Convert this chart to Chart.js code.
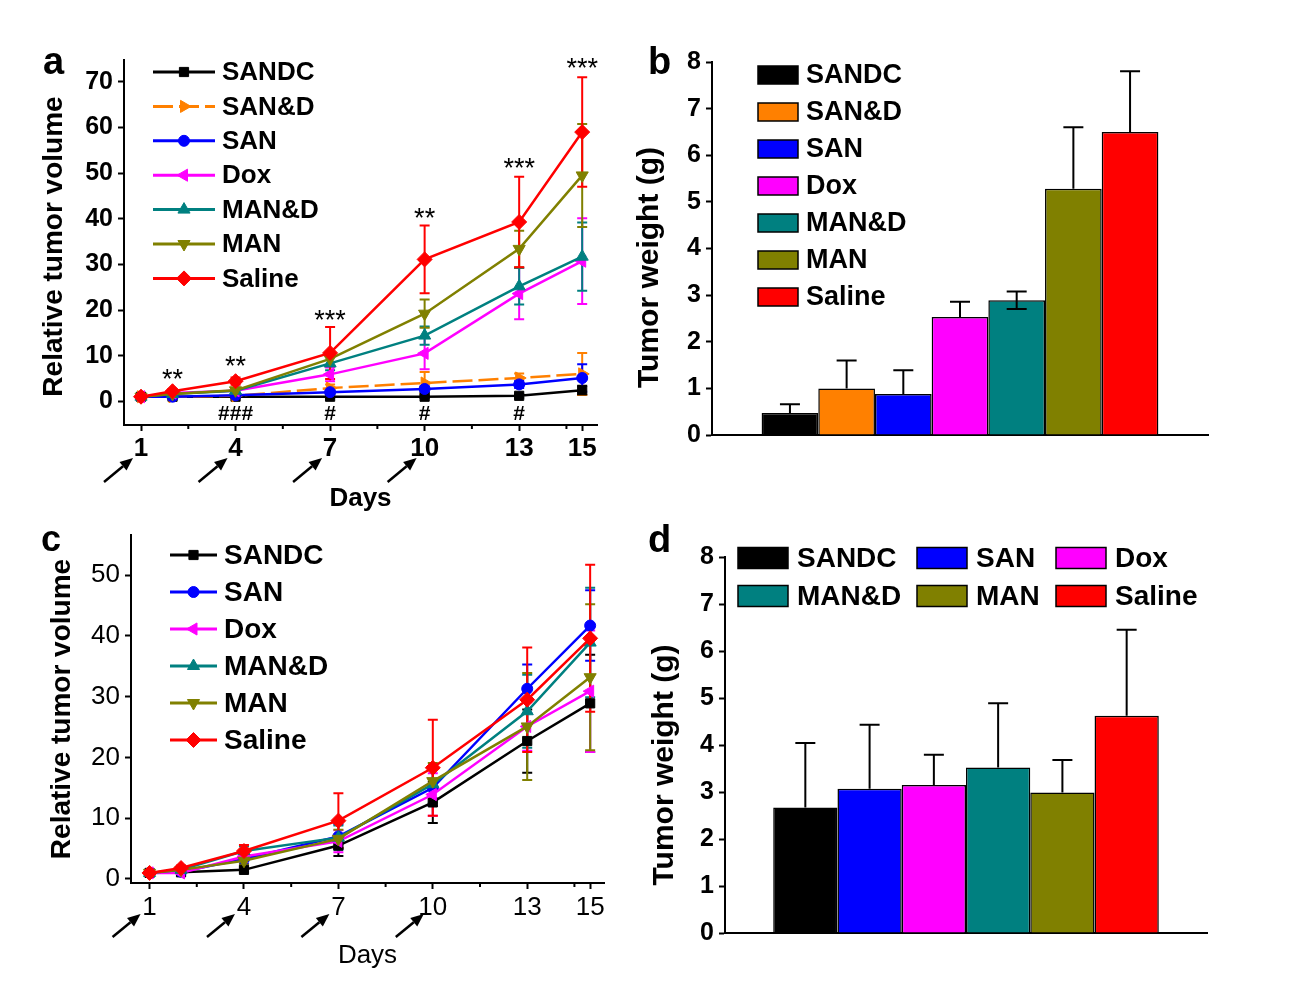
<!DOCTYPE html>
<html>
<head>
<meta charset="utf-8">
<title>Tumor growth</title>
<script src="https://cdn.jsdelivr.net/npm/chart.js@4.4.1/dist/chart.umd.min.js"></script>
<style>
  body { margin: 0; background: #fff; width: 1309px; height: 1006px; position: relative; overflow: hidden; }
  canvas { position: absolute; }
</style>
</head>
<body>
<canvas id="ca" width="615" height="515" style="left:0;top:0"></canvas>
<canvas id="cb" width="640" height="480" style="left:620px;top:0"></canvas>
<canvas id="cc" width="615" height="490" style="left:0;top:510px"></canvas>
<canvas id="cd" width="640" height="480" style="left:620px;top:500px"></canvas>
<script>
// sampling days and axis ticks
const days = [1, 2, 4, 7, 10, 13, 15];
const dayTicks = [1, 4, 7, 10, 13, 15];
const minorDays = [2.5, 5.5, 8.5, 11.5, 14.5];
const doseDays = [1, 4, 7, 10];

// panel a: relative tumor volume (mean, sd)
const aSANDC = [1.0, 1.0, 1.0, 1.0, 1.0, 1.2, 2.4];
const aSANDCsd = [0.1, 0.1, 0.2, 0.3, 0.3, 0.4, 1.0];
const aSANandD = [1.0, 1.0, 1.2, 2.9, 4.0, 5.1, 6.0];
const aSANandDsd = [0.1, 0.2, 0.3, 0.8, 2.4, 1.0, 4.6];
const aSAN = [1.0, 1.0, 1.3, 2.0, 2.7, 3.7, 5.1];
const aSANsd = [0.1, 0.1, 0.2, 0.4, 0.6, 0.8, 3.0];
const aDox = [1.0, 1.8, 2.3, 5.9, 10.5, 23.6, 30.7];
const aDoxSd = [0.1, 0.3, 0.6, 1.5, 3.5, 5.6, 9.4];
const aMANandD = [1.0, 1.6, 2.3, 8.3, 14.4, 25.2, 31.7];
const aMANandDsd = [0.1, 0.3, 0.6, 1.5, 2.0, 4.0, 7.5];
const aMAN = [1.0, 1.6, 2.4, 9.3, 19.2, 33.4, 49.5];
const aMANsd = [0.1, 0.3, 0.5, 1.5, 3.1, 4.0, 11.3];
const aSaline = [1.0, 2.2, 4.4, 10.6, 31.1, 39.3, 59.0];
const aSalineSd = [0.1, 0.5, 0.8, 5.7, 7.4, 9.9, 12.0];
const aYTicks = [0, 10, 20, 30, 40, 50, 60, 70];

// significance marks in panel a
const aStarDays = [2, 4, 7, 10, 13, 15];
const aStarLevels = [6.0, 8.8, 18.8, 41.3, 52.2, 74.1];
const aStarText = ['**', '**', '***', '**', '***', '***'];
const aHashDays = [4, 7, 10, 13];
const aHashLevels = [-2.9, -2.9, -2.9, -2.9];
const aHashText = ['###', '#', '#', '#'];

// panel b: tumor weight (g)
const bGroups = ['SANDC', 'SAN&D', 'SAN', 'Dox', 'MAN&D', 'MAN', 'Saline'];
const bWeight = [0.47, 1.0, 0.88, 2.53, 2.89, 5.28, 6.5];
const bSd = [0.19, 0.6, 0.51, 0.33, 0.19, 1.32, 1.3];
const bTicks = [0, 1, 2, 3, 4, 5, 6, 7, 8];

// panel c: relative tumor volume (mean, sd)
const cSANDC = [1.0, 1.1, 1.5, 5.5, 12.6, 22.7, 28.9];
const cSANDCsd = [0.1, 0.2, 0.4, 1.7, 3.4, 5.2, 8.0];
const cSAN = [1.0, 1.2, 3.3, 7.0, 15.0, 31.3, 41.7];
const cSANsd = [0.1, 0.2, 0.8, 2.0, 3.0, 4.0, 5.8];
const cDox = [1.0, 1.0, 3.7, 6.2, 13.9, 25.1, 30.9];
const cDoxSd = [0.1, 0.2, 0.7, 1.8, 3.5, 4.0, 10.0];
const cMANandD = [1.0, 1.5, 4.6, 6.8, 15.6, 27.6, 38.9];
const cMANandDsd = [0.1, 0.3, 0.8, 2.0, 3.0, 6.0, 9.0];
const cMAN = [1.0, 1.5, 3.0, 6.6, 16.1, 25.1, 33.2];
const cMANsd = [0.1, 0.3, 0.6, 1.5, 3.0, 8.8, 12.0];
const cSaline = [1.0, 1.8, 4.6, 9.6, 18.3, 29.5, 39.6];
const cSalineSd = [0.1, 0.4, 1.0, 4.5, 7.9, 8.6, 12.1];
const cYTicks = [0, 10, 20, 30, 40, 50];

// panel d: tumor weight (g)
const dGroups = ['SANDC', 'SAN', 'Dox', 'MAN&D', 'MAN', 'Saline'];
const dWeight = [2.67, 3.07, 3.15, 3.52, 2.99, 4.62];
const dSd = [1.37, 1.36, 0.64, 1.37, 0.69, 1.83];

const FONT = "'Liberation Sans', Arial, Helvetica, sans-serif";
const COL = {
  'SANDC': '#000000', 'SAN&D': '#ff8000', 'SAN': '#0000ff', 'Dox': '#ff00ff',
  'MAN&D': '#008080', 'MAN': '#808000', 'Saline': '#ff0000'
};
const MARK = {
  'SANDC': ['rect', 0, 6.5], 'SAN&D': ['triangle', 90, 7], 'SAN': ['circle', 0, 5.5],
  'Dox': ['triangle', -90, 7], 'MAN&D': ['triangle', 0, 7], 'MAN': ['triangle', 180, 7],
  'Saline': ['rectRot', 0, 7.5]
};

function f(size, weight) { return { family: FONT, size: size, weight: weight || 'normal' }; }
function fs(size, weight) { return (weight || 'normal') + ' ' + size + 'px ' + FONT; }

function marker(ctx, style, rot, r, x, y) {
  if (Chart.helpers && Chart.helpers.drawPoint) {
    Chart.helpers.drawPoint(ctx, { pointStyle: style, rotation: rot, radius: r, borderWidth: 1 }, x, y);
  } else {
    ctx.beginPath(); ctx.arc(x, y, r, 0, Math.PI * 2); ctx.fill(); ctx.stroke();
  }
}

function arrow(ctx, x1, y1, x2, y2) {
  const a = Math.atan2(y2 - y1, x2 - x1), h = 13, w = 5.5;
  const bx = x2 - h * Math.cos(a), by = y2 - h * Math.sin(a);
  ctx.beginPath(); ctx.moveTo(x1, y1); ctx.lineTo(bx, by); ctx.stroke();
  ctx.beginPath(); ctx.moveTo(x2, y2);
  ctx.lineTo(bx + w * Math.sin(a), by - w * Math.cos(a));
  ctx.lineTo(bx - w * Math.sin(a), by + w * Math.cos(a));
  ctx.closePath(); ctx.fill();
}

// error bars, legends, marks and labels drawn through the chart's own scales
const decor = {
  id: 'decor',
  beforeDatasetsDraw(chart, args, o) {
    if (!o.lineErrors) return;
    const ctx = chart.ctx, ys = chart.scales.y;
    chart.data.datasets.forEach((ds, i) => {
      const meta = chart.getDatasetMeta(i);
      ctx.save();
      ctx.strokeStyle = ds.borderColor; ctx.lineWidth = 2;
      meta.data.forEach((pt, j) => {
        const v = ds.data[j].y, e = ds.err[j];
        const y1 = ys.getPixelForValue(v + e), y2 = ys.getPixelForValue(v - e);
        ctx.beginPath();
        ctx.moveTo(pt.x, y1); ctx.lineTo(pt.x, y2);
        ctx.moveTo(pt.x - 5, y1); ctx.lineTo(pt.x + 5, y1);
        ctx.moveTo(pt.x - 5, y2); ctx.lineTo(pt.x + 5, y2);
        ctx.stroke();
      });
      ctx.restore();
    });
  },
  afterDatasetsDraw(chart, args, o) {
    if (!o.barErrors) return;
    const ctx = chart.ctx, ys = chart.scales.y;
    ctx.save();
    ctx.strokeStyle = '#000'; ctx.lineWidth = 2;
    chart.data.datasets.forEach((ds, i) => {
      const bar = chart.getDatasetMeta(i).data[0];
      const v = ds.data[0], top = ys.getPixelForValue(v + ds.err[0]);
      ctx.beginPath();
      ctx.moveTo(bar.x, bar.y); ctx.lineTo(bar.x, top);
      ctx.moveTo(bar.x - 10, top); ctx.lineTo(bar.x + 10, top);
      if (ds.errLow && ds.errLow[0] > 0) {
        const low = ys.getPixelForValue(v - ds.errLow[0]);
        ctx.moveTo(bar.x, bar.y); ctx.lineTo(bar.x, low);
        ctx.moveTo(bar.x - 10, low); ctx.lineTo(bar.x + 10, low);
      }
      ctx.stroke();
    });
    ctx.restore();
  },
  afterDraw(chart, args, o) {
    const ctx = chart.ctx, xs = chart.scales.x, ys = chart.scales.y;
    const area = chart.chartArea;
    ctx.save();
    ctx.fillStyle = '#000'; ctx.strokeStyle = '#000';
    if (o.minor) {
      ctx.lineWidth = 2;
      o.minor.forEach(v => {
        const px = xs.getPixelForValue(v);
        ctx.beginPath(); ctx.moveTo(px, area.bottom); ctx.lineTo(px, area.bottom + 4); ctx.stroke();
      });
    }
    if (o.arrows) {
      ctx.lineWidth = 2.5;
      o.arrows.days.forEach(d => {
        const px = xs.getPixelForValue(d);
        arrow(ctx, px + o.arrows.dx1, o.arrows.y1, px + o.arrows.dx2, o.arrows.y2);
      });
    }
    if (o.notes) {
      ctx.textAlign = 'center'; ctx.textBaseline = 'middle';
      o.notes.forEach(n => {
        const star = n[2].indexOf('*') >= 0;
        const size = star ? 27 : 21;
        ctx.font = star ? fs(size) : fs(size, 'bold');
        ctx.fillText(n[2], xs.getPixelForValue(n[0]), ys.getPixelForValue(n[1]) + (star ? size * 0.23 : 0));
      });
    }
    if (o.legend) {
      const L = o.legend;
      ctx.textAlign = 'left'; ctx.textBaseline = 'middle'; ctx.font = L.font;
      chart.data.datasets.forEach((ds, i) => {
        const col = i % L.cols.length, row = Math.floor(i / L.cols.length);
        const x = L.cols[col], y = L.y + row * L.dy;
        ctx.save();
        if (L.kind === 'line') {
          ctx.strokeStyle = ds.borderColor; ctx.lineWidth = 3;
          ctx.setLineDash(ds.borderDash || []);
          ctx.beginPath(); ctx.moveTo(x, y); ctx.lineTo(x + L.len, y); ctx.stroke();
          ctx.setLineDash([]);
          ctx.fillStyle = ds.borderColor; ctx.lineWidth = 1;
          marker(ctx, ds.pointStyle, ds.pointRotation, ds.pointRadius, x + L.len / 2, y);
        } else {
          ctx.fillStyle = ds.backgroundColor;
          ctx.fillRect(x, y - L.h / 2, L.len, L.h);
          ctx.strokeStyle = '#000'; ctx.lineWidth = 1.5;
          ctx.strokeRect(x, y - L.h / 2, L.len, L.h);
        }
        ctx.restore();
        ctx.fillText(ds.label, x + L.len + L.gap, y + 1);
      });
    }
    if (o.yTitle) {
      const T = o.yTitle;
      ctx.save();
      ctx.translate(T.x, (area.top + area.bottom) / 2 + T.dy);
      ctx.rotate(-Math.PI / 2);
      ctx.textAlign = 'center'; ctx.textBaseline = 'middle'; ctx.font = T.font;
      ctx.fillText(T.text, 0, 0);
      ctx.restore();
    }
    if (o.letter) {
      ctx.textAlign = 'left'; ctx.textBaseline = 'alphabetic'; ctx.font = o.letter.font;
      ctx.fillText(o.letter.text, o.letter.x, o.letter.y);
    }
    ctx.restore();
  }
};
Chart.register(decor);

function lineSet(label, vals, sd, dash) {
  const m = MARK[label];
  return {
    label: label,
    data: days.map((d, i) => ({ x: d, y: vals[i] })),
    err: sd,
    borderColor: COL[label], backgroundColor: COL[label], borderWidth: 2.5,
    borderDash: dash || [],
    pointStyle: m[0], pointRotation: m[1], pointRadius: m[2],
    pointBackgroundColor: COL[label], pointBorderColor: COL[label], pointBorderWidth: 1,
    tension: 0
  };
}

function lineScales(o) {
  return {
    x: {
      type: 'linear', min: o.xMin, max: o.xMax,
      afterBuildTicks: s => { s.ticks = dayTicks.map(v => ({ value: v })); },
      afterFit: s => { s.height = o.xH; },
      ticks: { font: o.xFont, color: '#000', padding: o.xPad, autoSkip: false, maxRotation: 0, callback: v => String(v) },
      grid: { display: true, drawOnChartArea: false, drawTicks: true, tickLength: 6, tickWidth: 2, tickColor: '#000' },
      border: { display: true, color: '#000', width: 2 },
      title: { display: true, text: 'Days', color: '#000', font: o.daysFont, padding: { top: 0, bottom: o.daysPad } }
    },
    y: {
      type: 'linear', min: o.yMin, max: o.yMax,
      afterBuildTicks: s => { s.ticks = o.yTicks.map(v => ({ value: v })); },
      afterFit: s => { s.width = o.yW; },
      ticks: { font: o.yFont, color: '#000', padding: 5, callback: v => String(v) },
      grid: { display: true, drawOnChartArea: false, drawTicks: true, tickLength: 6, tickWidth: 2, tickColor: '#000' },
      border: { display: true, color: '#000', width: 2 }
    }
  };
}

function barScales(o) {
  return {
    x: {
      type: 'category',
      afterFit: s => { s.height = o.xH; },
      ticks: { display: false },
      grid: { display: false },
      border: { display: true, color: '#000', width: 2 }
    },
    y: {
      min: 0, max: 8,
      afterBuildTicks: s => { s.ticks = bTicks.map(v => ({ value: v })); },
      afterFit: s => { s.width = o.yW; },
      ticks: { font: f(25, 'bold'), color: '#000', padding: 5 },
      grid: { display: true, drawOnChartArea: false, drawTicks: true, tickLength: 6, tickWidth: 2, tickColor: '#000' },
      border: { display: true, color: '#000', width: 2 }
    }
  };
}

function barSets(groups, vals, sd, low) {
  return groups.map((g, i) => ({
    label: g, data: [vals[i]], err: [sd[i]], errLow: [low ? low[i] : 0],
    backgroundColor: COL[g], borderColor: '#000', borderWidth: 1.5,
    barPercentage: 1, categoryPercentage: 0.8
  }));
}

function layer(sets) {
  sets.forEach((s, i) => { s.order = sets.length - i; });
  return sets;
}

const base = { responsive: false, animation: false, events: [] };

// panel a
new Chart(document.getElementById('ca'), {
  type: 'line',
  data: {
    datasets: layer([
      lineSet('SANDC', aSANDC, aSANDCsd),
      lineSet('SAN&D', aSANandD, aSANandDsd, [20, 6]),
      lineSet('SAN', aSAN, aSANsd),
      lineSet('Dox', aDox, aDoxSd),
      lineSet('MAN&D', aMANandD, aMANandDsd),
      lineSet('MAN', aMAN, aMANsd),
      lineSet('Saline', aSaline, aSalineSd)
    ])
  },
  options: Object.assign({}, base, {
    layout: { padding: { top: 60, right: 18, left: 0, bottom: 0 } },
    scales: lineScales({
      xMin: 0.46, xMax: 15.47, yMin: -5.2, yMax: 74.8, yTicks: aYTicks,
      xH: 90, yW: 124, xPad: 2, xFont: f(26, 'bold'), yFont: f(25, 'bold'),
      daysFont: f(26, 'bold'), daysPad: 1
    }),
    plugins: {
      legend: { display: false }, tooltip: { enabled: false },
      decor: {
        lineErrors: true,
        minor: minorDays,
        arrows: { days: doseDays, dx1: -37, y1: 482, dx2: -8, y2: 458 },
        notes: aStarDays.map((d, i) => [d, aStarLevels[i], aStarText[i]])
          .concat(aHashDays.map((d, i) => [d, aHashLevels[i], aHashText[i]])),
        legend: { kind: 'line', cols: [153], y: 72, dy: 34.4, len: 62, gap: 7, font: fs(26, 'bold') },
        yTitle: { text: 'Relative tumor volume', x: 54, dy: 4, font: fs(28, 'bold') },
        letter: { text: 'a', x: 43, y: 74, font: fs(38, 'bold') }
      }
    }
  })
});

// panel b
new Chart(document.getElementById('cb'), {
  type: 'bar',
  data: { labels: [''], datasets: barSets(bGroups, bWeight, bSd, [0, 0, 0, 0, 0.19, 0, 0]) },
  options: Object.assign({}, base, {
    layout: { padding: { top: 62, right: 52, left: 0, bottom: 0 } },
    scales: barScales({ xH: 45, yW: 92 }),
    plugins: {
      legend: { display: false }, tooltip: { enabled: false },
      decor: {
        barErrors: true,
        legend: { kind: 'box', cols: [138], y: 75, dy: 37, len: 40, h: 18, gap: 8, font: fs(27, 'bold') },
        yTitle: { text: 'Tumor weight (g)', x: 30, dy: 19, font: fs(30, 'bold') },
        letter: { text: 'b', x: 28, y: 74, font: fs(38, 'bold') }
      }
    }
  })
});

// panel c
new Chart(document.getElementById('cc'), {
  type: 'line',
  data: {
    datasets: layer([
      lineSet('SANDC', cSANDC, cSANDCsd),
      lineSet('SAN', cSAN, cSANsd),
      lineSet('Dox', cDox, cDoxSd),
      lineSet('MAN&D', cMANandD, cMANandDsd),
      lineSet('MAN', cMAN, cMANsd),
      lineSet('Saline', cSaline, cSalineSd)
    ])
  },
  options: Object.assign({}, base, {
    layout: { padding: { top: 25, right: 11, left: 0, bottom: 0 } },
    scales: lineScales({
      xMin: 0.41, xMax: 15.44, yMin: -0.66, yMax: 56.6, yTicks: cYTicks,
      xH: 117, yW: 131, xPad: 3, xFont: f(26), yFont: f(26),
      daysFont: f(26), daysPad: 29
    }),
    plugins: {
      legend: { display: false }, tooltip: { enabled: false },
      decor: {
        lineErrors: true,
        minor: minorDays,
        arrows: { days: doseDays, dx1: -37, y1: 427, dx2: -9, y2: 404 },
        legend: { kind: 'line', cols: [170], y: 45, dy: 37, len: 47, gap: 7, font: fs(28, 'bold') },
        yTitle: { text: 'Relative tumor volume', x: 62, dy: 0, font: fs(28, 'bold') },
        letter: { text: 'c', x: 41, y: 41, font: fs(36, 'bold') }
      }
    }
  })
});

// panel d
new Chart(document.getElementById('cd'), {
  type: 'bar',
  data: { labels: [''], datasets: barSets(dGroups, dWeight, dSd) },
  options: Object.assign({}, base, {
    layout: { padding: { top: 57, right: 53, left: 0, bottom: 0 } },
    scales: barScales({ xH: 47, yW: 105 }),
    plugins: {
      legend: { display: false }, tooltip: { enabled: false },
      decor: {
        barErrors: true,
        legend: { kind: 'box', cols: [118, 297, 436], y: 58, dy: 38, len: 50, h: 21, gap: 9, font: fs(28, 'bold') },
        yTitle: { text: 'Tumor weight (g)', x: 45, dy: 20, font: fs(30, 'bold') },
        letter: { text: 'd', x: 28, y: 52, font: fs(38, 'bold') }
      }
    }
  })
});
</script>
</body>
</html>
